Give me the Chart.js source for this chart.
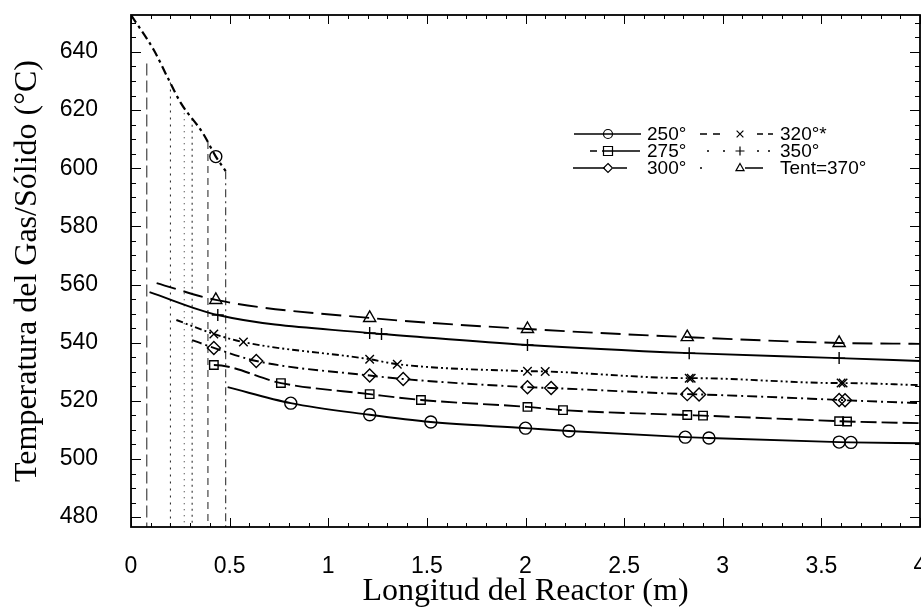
<!DOCTYPE html>
<html><head><meta charset="utf-8">
<script src="https://cdn.jsdelivr.net/npm/chart.js@4.4.0/dist/chart.umd.min.js"></script>
<style>html,body{margin:0;padding:0;background:#fff;}#wrap{width:921px;height:612px;}</style>
</head><body><div id="wrap"><canvas id="c" width="921" height="612"></canvas></div>
<script>
// ---- data ----
const xTicks = [0, 0.5, 1, 1.5, 2, 2.5, 3, 3.5, 4];
const yTicks = [480, 500, 520, 540, 560, 580, 600, 620, 640];
const seriesLabels = ['250°', '275°', '300°', '320°*', '350°', 'Tent=370°'];

// start of each gas-temperature curve, and its value at x = 4
const curveStartX = [0.49, 0.42, 0.31, 0.23, 0.094, 0.13];
const curveStartT = [524.7, 532.3, 540.9, 547.8, 557.4, 560.5];
const curveEndX = 4;
const curveEndT = [505.4, 512.3, 519.2, 525.4, 533.7, 539.6];

// marked points of each curve
const x250 = [0.81, 1.21, 1.52, 2.00, 2.22, 2.81, 2.93, 3.59, 3.65];
const t250 = [519.2, 515.2, 512.7, 510.6, 509.6, 507.5, 507.2, 505.8, 505.7];
const x275 = [0.42, 0.76, 1.21, 1.47, 2.01, 2.19, 2.82, 2.90, 3.59, 3.63];
const t275 = [532.3, 526.1, 522.3, 520.3, 517.9, 516.8, 515.1, 514.9, 513.0, 512.9];
const x300 = [0.42, 0.635, 1.21, 1.38, 2.01, 2.13, 2.82, 2.88, 3.59, 3.62];
const t300 = [538.2, 533.7, 528.7, 527.5, 524.7, 524.4, 522.3, 522.2, 520.3, 520.2];
const x320 = [0.42, 0.57, 1.21, 1.35, 2.01, 2.10, 2.83, 2.84, 3.60, 3.61];
const t320 = [543.0, 540.2, 534.3, 532.6, 530.2, 530.1, 527.8, 527.8, 526.1, 526.1];
const x350 = [0.44, 1.21, 1.27, 2.01, 2.83, 3.59];
const t350 = [549.5, 543.3, 543.0, 539.2, 536.4, 534.7];
const x370 = [0.43, 1.21, 2.01, 2.82, 3.59];
const t370 = [554.7, 548.5, 544.7, 541.9, 539.9];

// steep entry (solid temperature) line and its marker
const descX = [0, 0.117, 0.187, 0.253, 0.365, 0.43, 0.48];
const descT = [652.7, 640.5, 631, 622.4, 612, 604, 599];
const descMarkX = [0.43];
const descMarkT = [604];

// vertical drops from the entry line
const dropX = [0.48, 0.39, 0.31, 0.27, 0.20, 0.08];
const dropTopT = [599, 609, 617, 621, 629.5, 636];
const dropBottomT = 470;

// ---- styles ----
const markX = [x250, x275, x300, x320, x350, x370];
const markT = [t250, t275, t300, t320, t350, t370];
const pStyles = ['circle', 'rect', 'rectRot', 'crossRot', 'cross', 'triangle'];
const pRadius = [6, 6, 6.5, 6, 6, 7];
const dashes = [[], [16, 5], [10, 4, 2, 4], [7, 3, 2, 3, 2, 3], [], [20, 8]];
// legend line pieces, offsets relative to the legend marker centre
const legendPieces = [
  [[-34, 33]],
  [[-18, -11], [-6, 32]],
  [[-35, -3], [5, 19]],
  [[-40, -33], [-27, -20], [17, 23], [28, 33]],
  [[-33, -31], [-17, -15], [17, 19], [28, 30]],
  [[-40, -38], [5, 23]]
];
const dropDashes = [[8, 4, 2, 4], [7, 5], [2, 4], [1, 5], [2, 5], [12, 5]];

const datasets = [];
for (let i = 0; i < 6; i++) {
  const pts = [{x: curveStartX[i], y: curveStartT[i]}];
  markX[i].forEach((x, k) => pts.push({x: x, y: markT[i][k]}));
  pts.push({x: curveEndX, y: curveEndT[i]});
  datasets.push({
    label: seriesLabels[i], data: pts, showLine: true,
    borderColor: '#000', borderWidth: 1.9, borderDash: dashes[i],
    pointStyle: pStyles[i], pointBorderColor: '#000', pointBackgroundColor: 'rgba(0,0,0,0)',
    pointBorderWidth: 1.4,
    pointRadius: (c) => (c.dataIndex === 0 || c.dataIndex === pts.length - 1) ? 0 : pRadius[i],
    cubicInterpolationMode: 'monotone', clip: 0
  });
}
datasets.push({
  label: 'entry', data: descX.map((x, k) => ({x: x, y: descT[k]})), showLine: true,
  borderColor: '#000', borderWidth: 2.2, borderDash: [9, 4, 3, 4], pointRadius: 0,
  cubicInterpolationMode: 'monotone'
});
datasets.push({
  label: 'entryMark', data: descMarkX.map((x, k) => ({x: x, y: descMarkT[k]})), showLine: false,
  pointStyle: 'circle', pointRadius: 6, pointBorderColor: '#000', pointBorderWidth: 1.4,
  pointBackgroundColor: 'rgba(0,0,0,0)'
});
dropX.forEach((x, k) => {
  datasets.push({
    label: 'drop' + k, data: [{x: x, y: dropTopT[k]}, {x: x, y: dropBottomT}], showLine: true,
    borderColor: '#333', borderWidth: 1.1, borderDash: dropDashes[k], pointRadius: 0
  });
});

function drawMarker(ctx, style, x, y, r) {
  ctx.beginPath();
  if (style === 'circle') { ctx.arc(x, y, r, 0, Math.PI * 2); }
  else if (style === 'rect') { ctx.rect(x - r, y - r, 2 * r, 2 * r); }
  else if (style === 'rectRot') { ctx.moveTo(x, y - r); ctx.lineTo(x + r, y); ctx.lineTo(x, y + r); ctx.lineTo(x - r, y); ctx.closePath(); }
  else if (style === 'crossRot') { const d = r * 0.75; ctx.moveTo(x - d, y - d); ctx.lineTo(x + d, y + d); ctx.moveTo(x + d, y - d); ctx.lineTo(x - d, y + d); }
  else if (style === 'cross') { ctx.moveTo(x - r, y); ctx.lineTo(x + r, y); ctx.moveTo(x, y - r); ctx.lineTo(x, y + r); }
  else if (style === 'triangle') { ctx.moveTo(x, y - r); ctx.lineTo(x + r * 0.9, y + r * 0.6); ctx.lineTo(x - r * 0.9, y + r * 0.6); ctx.closePath(); }
  ctx.stroke();
}

const legendPlugin = {
  id: 'refLegend',
  afterDraw(chart) {
    const ctx = chart.ctx;
    ctx.save();
    ctx.strokeStyle = '#000'; ctx.fillStyle = '#000';
    ctx.font = '19px "Liberation Sans", Arial, sans-serif';
    ctx.textBaseline = 'middle';
    for (let i = 0; i < 6; i++) {
      const col = i < 3 ? 0 : 1, row = i % 3;
      const y = 134 + 17 * row;
      const mx = [608, 740][col], tx = [647, 780][col];
      ctx.lineWidth = 1.6;
      ctx.beginPath();
      legendPieces[i].forEach(p => { ctx.moveTo(mx + p[0], y); ctx.lineTo(mx + p[1], y); });
      ctx.stroke();
      ctx.lineWidth = 1.2;
      drawMarker(ctx, pStyles[i], mx, y, 4.5);
      ctx.fillText(seriesLabels[i], tx, y + 1);
    }
    ctx.restore();
  }
};

const framePlugin = {
  id: 'frame',
  afterDraw(chart) {
    const ctx = chart.ctx, a = chart.chartArea, xs = chart.scales.x, ys = chart.scales.y;
    ctx.save();
    ctx.strokeStyle = '#000'; ctx.setLineDash([]);
    ctx.lineWidth = 1.8;
    ctx.strokeRect(a.left, a.top, a.right - a.left, a.bottom - a.top);
    ctx.lineWidth = 1;
    ctx.beginPath();
    for (let k = 0; k <= 40; k++) {
      const v = k / 10, px = Math.round(xs.getPixelForValue(v)) + 0.5;
      const len = (k % 5 === 0) ? 9 : 4;
      ctx.moveTo(px, a.bottom); ctx.lineTo(px, a.bottom - len);
      ctx.moveTo(px, a.top); ctx.lineTo(px, a.top + len);
    }
    for (let v = 480; v <= 650; v += 5) {
      const py = Math.round(ys.getPixelForValue(v)) + 0.5;
      const len = (v % 20 === 0) ? 10 : 5;
      ctx.moveTo(a.left, py); ctx.lineTo(a.left + len, py);
      ctx.moveTo(a.right, py); ctx.lineTo(a.right - len, py);
    }
    ctx.stroke();
    ctx.restore();
  }
};

new Chart(document.getElementById('c'), {
  type: 'scatter',
  data: {datasets: datasets},
  options: {
    responsive: false, animation: false,
    layout: {autoPadding: false, padding: {top: 15, right: 1, left: 0, bottom: 0}},
    plugins: {legend: {display: false}, tooltip: {enabled: false}},
    scales: {
      x: {
        type: 'linear', min: 0, max: 4,
        afterBuildTicks: (s) => { s.ticks = xTicks.map(v => ({value: v})); },
        afterFit: (s) => { s.height = 85; s.paddingLeft = 0; s.paddingRight = 0; },
        grid: {display: false, drawTicks: false}, border: {display: false},
        ticks: {color: '#000', padding: 26, font: {family: '"Liberation Sans", Arial, sans-serif', size: 23},
          maxRotation: 0, autoSkip: false, callback: (v) => String(v)},
        title: {display: true, text: 'Longitud del Reactor (m)', color: '#000',
          font: {family: '"Liberation Serif", "Times New Roman", serif', size: 32}, padding: {top: 0, bottom: 1}}
      },
      y: {
        type: 'linear', min: 476.6, max: 652.7,
        afterBuildTicks: (s) => { s.ticks = yTicks.map(v => ({value: v})); },
        afterFit: (s) => { s.width = 131; s.paddingTop = 0; s.paddingBottom = 0; },
        grid: {display: false, drawTicks: false}, border: {display: false},
        ticks: {color: '#000', padding: 33, font: {family: '"Liberation Sans", Arial, sans-serif', size: 23},
          callback: (v) => String(v)},
        title: {display: true, text: 'Temperatura del Gas/Sólido (°C)', color: '#000',
          font: {family: '"Liberation Serif", "Times New Roman", serif', size: 32}, padding: {top: 8, bottom: 0}}
      }
    }
  },
  plugins: [framePlugin, legendPlugin]
});
</script></body></html>
